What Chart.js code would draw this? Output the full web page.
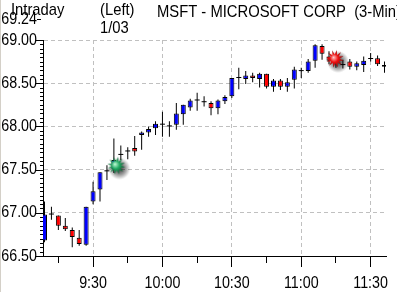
<!DOCTYPE html>
<html><head><meta charset="utf-8">
<script src="https://cdn.jsdelivr.net/npm/chart.js@4.4.1/dist/chart.umd.min.js"></script>
<style>html,body{margin:0;padding:0;background:#fff;overflow:hidden}#wrap{width:397px;height:292px;position:relative}</style>
</head><body><div id="wrap"><canvas id="c" width="397" height="292"></canvas></div>
<script>
// ---- data ----
const times  = ['9:09','9:12','9:15','9:18','9:21','9:24','9:27','9:30','9:33','9:36','9:39','9:42','9:45','9:48','9:51','9:54','9:57',
                '10:00','10:03','10:06','10:09','10:12','10:15','10:18','10:21','10:24','10:27','10:30','10:33','10:36','10:39','10:42','10:45','10:48','10:51','10:54','10:57',
                '11:00','11:03','11:06','11:09','11:12','11:15','11:18','11:21','11:24','11:27','11:30','11:33','11:36'];
const opens  = [66.68,66.98,66.97,66.85,66.80,66.71,66.63,67.13,67.27,67.48,67.50,67.67,67.71,67.75,67.90,67.93,67.98,
                68.02,68.00,68.02,68.14,68.22,68.30,68.28,68.27,68.21,68.29,68.35,68.56,68.55,68.59,68.55,68.61,68.46,68.53,68.46,68.54,
                68.64,68.64,68.76,68.93,68.81,68.77,68.71,68.75,68.69,68.71,68.78,68.79,68.71];
const highs  = [67.13,67.07,66.97,66.94,66.83,66.80,67.07,67.36,67.47,67.55,67.86,67.78,67.76,67.89,67.94,68.00,68.06,
                68.17,68.06,68.27,68.25,68.32,68.39,68.35,68.29,68.31,68.36,68.56,68.68,68.64,68.62,68.62,68.61,68.55,68.55,68.56,68.69,
                68.68,68.78,68.95,68.95,68.87,68.82,68.77,68.78,68.75,68.81,68.85,68.82,68.75];
const lows   = [66.66,66.92,66.80,66.79,66.60,66.62,66.62,67.10,67.13,67.38,67.46,67.61,67.62,67.66,67.73,67.88,67.90,
                67.88,67.88,67.96,68.02,68.18,68.18,68.23,68.13,68.14,68.26,68.33,68.43,68.49,68.51,68.45,68.44,68.40,68.42,68.40,68.44,
                68.56,68.62,68.68,68.77,68.72,68.68,68.67,68.66,68.65,68.63,68.75,68.70,68.62];
const closes = [66.98,66.98,66.85,66.81,66.72,66.64,67.07,67.25,67.47,67.48,67.61,67.67,67.71,67.71,67.93,67.97,68.03,
                68.02,68.00,68.15,68.25,68.30,68.30,68.28,68.21,68.30,68.34,68.56,68.56,68.59,68.56,68.61,68.46,68.53,68.46,68.51,68.66,
                68.64,68.75,68.94,68.84,68.76,68.77,68.71,68.69,68.73,68.76,68.78,68.72,68.69];
const markerTimes  = ['9:40.5','11:15'];
const markerValues = [67.535, 68.77];
const yTickValues  = [66.5,67.0,67.5,68.0,68.5,69.0];
const yTopLabel    = 69.24;
const xTickTimes   = ['9:15','9:30','9:45','10:00','10:15','10:30','10:45','11:00','11:15','11:30'];
const xLabelTimes  = ['9:30','10:00','10:30','11:00','11:30'];
const titleLeft  = 'Intraday';
const titleSide  = '(Left)';
const titleDate  = '1/03';
const titleMain  = 'MSFT - MICROSOFT CORP  (3-Min)';

// ---- helpers ----
const toMin = s => { const p = s.split(':'); return (+p[0]-9)*60 + parseFloat(p[1]); };
const fmt = m => { const h = 9 + Math.floor(m/60), mm = Math.round(m%60); return h + ':' + String(mm).padStart(2,'0'); };
const FONT = '"Liberation Sans",Arial,sans-serif';
const FSIZE = 17;
const SX_AXIS = 0.84, SX_TITLE = 0.87;   // narrow look of the original bitmap font
const UP = '#0000ff', DOWN = '#ff0000';

const tMin = times.map(toMin);
const wickData = tMin.map((x,i)=>({x, y:[lows[i], highs[i]]}));
const bodyData = tMin.map((x,i)=>({x, y:[opens[i], closes[i]]}));
const markerData = markerTimes.map((t,i)=>({x: toMin(t), y: markerValues[i]}));
const xTickMins = xTickTimes.map(toMin);
const xLabelMins = xLabelTimes.map(toMin);

function makeBurst(light, mid, dark) {
  const s = 28, cv = document.createElement('canvas'); cv.width = s; cv.height = s;
  const g = cv.getContext('2d');
  const sg = g.createRadialGradient(16,16,0,16,16,11);
  sg.addColorStop(0,'rgba(0,0,0,0.8)'); sg.addColorStop(0.55,'rgba(0,0,0,0.4)'); sg.addColorStop(1,'rgba(0,0,0,0)');
  g.fillStyle = sg; g.fillRect(0,0,s,s);
  const cx = 13, cy = 13, n = 12;
  g.beginPath();
  for (let i=0;i<n*2;i++){ const r = i%2 ? 4.5 : 9; const a = i*Math.PI/n + 0.2; g.lineTo(cx + r*Math.cos(a), cy + r*Math.sin(a)); }
  g.closePath();
  const fg = g.createRadialGradient(cx-1.5,cy-1.5,0,cx,cy,9);
  fg.addColorStop(0, light); fg.addColorStop(0.45, mid); fg.addColorStop(1, dark);
  g.fillStyle = fg; g.fill();
  return cv;
}
const bursts = [makeBurst('#c8ffdc','#1fa860','#004a22'), makeBurst('#ffd0d0','#f01010','#7a0000')];

function txt(c, s, x, y, align, base, sx) {
  c.save(); c.translate(x, y); c.scale(sx, 1);
  c.textAlign = align; c.textBaseline = base; c.fillText(s, 0, 0);
  c.restore();
}

const decor = {
  id: 'decor',
  beforeDraw(chart) {
    const c = chart.ctx; c.save();
    c.fillStyle = '#fff'; c.fillRect(0,0,chart.width,chart.height);
    c.fillStyle = '#d4d0c8'; c.fillRect(0,0,1,chart.height);
    c.restore();
  },
  afterDraw(chart) {
    const c = chart.ctx, xs = chart.scales.x, ys = chart.scales.y, a = chart.chartArea;
    c.save();
    c.strokeStyle = '#000'; c.lineWidth = 1; c.beginPath();
    const yMin = yTickValues[0], yMax = yTickValues[yTickValues.length-1], minorStep = 0.05;
    const nMinor = Math.round((yMax - yMin)/minorStep);
    for (let k=0;k<=nMinor;k++){
      const v = yMin + k*minorStep;
      const y = Math.round(ys.getPixelForValue(v)) + 0.5;
      const major = k % 10 === 0;
      c.moveTo(a.left - (major ? 7 : 3), y); c.lineTo(a.left, y);
    }
    const yt = Math.round(ys.getPixelForValue(yTopLabel)) + 0.5;
    c.moveTo(37, yt); c.lineTo(41, yt);
    xs.ticks.forEach(t => {
      const x = Math.round(xs.getPixelForValue(t.value) - 0.5) + 0.5;
      const major = xLabelMins.includes(t.value);
      c.moveTo(x, a.bottom); c.lineTo(x, a.bottom + (major ? 11 : 7));
    });
    c.stroke();
    // texts
    c.fillStyle = '#000';
    c.font = FSIZE + 'px ' + FONT;
    ys.ticks.forEach(t => txt(c, t.value.toFixed(2), 37, ys.getPixelForValue(t.value), 'right', 'middle', SX_AXIS));
    txt(c, yTopLabel.toFixed(2), 37, ys.getPixelForValue(yTopLabel), 'right', 'middle', SX_AXIS);
    xs.ticks.forEach(t => { if (xLabelMins.includes(t.value)) txt(c, fmt(t.value), xs.getPixelForValue(t.value), a.bottom + 27, 'center', 'middle', SX_AXIS); });
    txt(c, titleLeft, 11, 15, 'left', 'alphabetic', SX_TITLE);
    txt(c, titleSide, 100, 15, 'left', 'alphabetic', SX_TITLE);
    txt(c, titleDate, 100, 33, 'left', 'alphabetic', SX_TITLE);
    txt(c, titleMain, 157, 16.5, 'left', 'alphabetic', SX_TITLE);
    c.restore();
  }
};

Chart.defaults.font.family = FONT;
Chart.defaults.font.size = FSIZE;
Chart.defaults.color = '#000';

new Chart(document.getElementById('c'), {
  type: 'bar',
  data: {
    datasets: [
      { type: 'scatter', data: markerData, pointStyle: bursts, pointRadius: 10, pointHoverRadius: 10, order: 0, clip: false },
      { data: bodyData, order: 1, grouped: false, barThickness: 5, inflateAmount: 0, borderSkipped: false, minBarLength: 1,
        backgroundColor: ctx => { const i = ctx.dataIndex; return opens[i] === closes[i] ? '#000' : (closes[i] > opens[i] ? UP : DOWN); },
        borderColor: '#000',
        borderWidth: ctx => { const i = ctx.dataIndex; return opens[i] === closes[i] ? 0 : 1; } },
      { data: wickData, order: 2, grouped: false, barThickness: 1, inflateAmount: 0, borderWidth: 0, backgroundColor: '#000' }
    ]
  },
  options: {
    responsive: false, animation: false, devicePixelRatio: 1,
    layout: { padding: { top: 40, right: 8, left: 0, bottom: 0 } },
    plugins: { legend: { display: false }, tooltip: { enabled: false }, title: { display: false } },
    scales: {
      x: {
        type: 'linear', offset: false, min: 8.357, max: 156.643,
        afterBuildTicks: s => { s.ticks = xTickMins.map(v => ({ value: v })); },
        afterFit: s => { s.height = 36; },
        ticks: { display: false, autoSkip: false },
        grid: { offset: false, drawTicks: false, color: ctx => (ctx.tick && xLabelMins.includes(ctx.tick.value)) ? '#c0c0c0' : 'rgba(0,0,0,0)' },
        border: { display: true, color: '#000', width: 1, dash: [4,3] }
      },
      y: {
        type: 'linear', min: yTickValues[0], max: yTickValues[yTickValues.length-1],
        afterBuildTicks: s => { s.ticks = yTickValues.map(v => ({ value: v })); },
        afterFit: s => { s.width = 43; },
        ticks: { display: false },
        grid: { drawTicks: false, color: ctx => (ctx.tick && ctx.tick.value === yTickValues[0]) ? 'rgba(0,0,0,0)' : '#c0c0c0' },
        border: { display: true, color: '#000', width: 1, dash: [4,3] }
      }
    }
  },
  plugins: [decor]
});
</script></body></html>
